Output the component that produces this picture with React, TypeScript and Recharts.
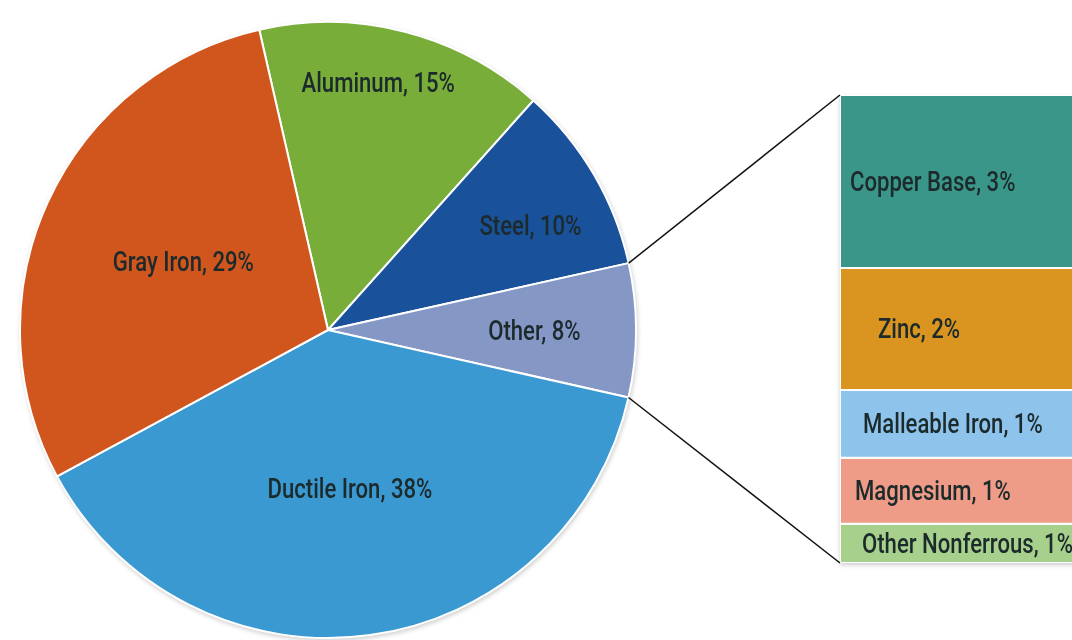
import React from "react";
import { PieChart, Pie, Cell, BarChart, Bar, XAxis, YAxis, LabelList } from "recharts";

// ---- data ----
const pieNames = ["Aluminum", "Steel", "Other", "Ductile Iron", "Gray Iron"];
const pieValues = [15.2, 9.9, 7.0, 38.6, 29.3];
const pieLabels = ["Aluminum, 15%", "Steel, 10%", "Other, 8%", "Ductile Iron, 38%", "Gray Iron, 29%"];
const pieColors = ["#79ad3a", "#19519a", "#8597c5", "#3a99d0", "#d1561e"];

// stacked bar, bottom to top
const barNames = ["otherNonferrous", "magnesium", "malleable", "zinc", "copper"];
const barValues = [0.67, 1.13, 1.16, 2.09, 2.96];
const barLabels = ["Other Nonferrous, 1%", "Magnesium, 1%", "Malleable Iron, 1%", "Zinc, 2%", "Copper Base, 3%"];
const barColors = ["#a6d08b", "#ee9c88", "#8ec4eb", "#d9951f", "#3a9689"];

// ---- layout / style ----
const W = 1072;
const H = 640;
const CX = 328;
const CY = 330;
const R = 308;
const START = 102.9;
const BAR_LEFT = 840;
const BAR_TOP = 95;
const BAR_W = 260;
const BAR_H = 468;
const FONT = "Roboto, 'Noto Sans', sans-serif";
const FS = 27;
const SX = 0.82;
const TEXT = "#1c2a2c";
const pieLabelPos = [
  { f: 0.82, da: 3 },
  { f: 0.74, da: -3 },
  { f: 0.67, da: 0 },
  { f: 0.52, da: 0 },
  { f: 0.52, da: -1 },
];
const barLabelDx = [22, 15, 23, 38, 10];

const pieData = pieNames.map((n, i) => ({ name: n, value: pieValues[i] }));
const barRow: Record<string, number | string> = { name: "other" };
barNames.forEach((n, i) => (barRow[n] = barValues[i]));
const barData = [barRow];

const RAD = Math.PI / 180;

const Label = ({ x, y, anchor, children }: any) => (
  <text
    transform={`translate(${x},${y}) scale(${SX},1)`}
    x={0}
    y={0}
    textAnchor={anchor}
    dominantBaseline="central"
    fill={TEXT}
    fontFamily={FONT}
    fontWeight={500}
    fontSize={FS}
  >
    {children}
  </text>
);

const renderPieLabel = (props: any) => {
  const { cx, cy, midAngle, outerRadius, index } = props;
  const p = pieLabelPos[index];
  const a = (midAngle + p.da) * RAD;
  const r = outerRadius * p.f;
  const x = cx + r * Math.cos(a);
  const y = cy - r * Math.sin(a);
  return (
    <Label x={x} y={y} anchor="middle">
      {pieLabels[index]}
    </Label>
  );
};

const makeBarLabel = (i: number) => (props: any) => {
  const { x, y, height } = props;
  return (
    <Label x={x + barLabelDx[i]} y={y + height / 2} anchor="start">
      {barLabels[i]}
    </Label>
  );
};

export default function App() {
  // angles of the "Other" slice, derived from the data
  const total = pieValues.reduce((a, b) => a + b, 0);
  const otherIdx = 2;
  const before = pieValues.slice(0, otherIdx).reduce((a, b) => a + b, 0);
  const a1 = (START - (before / total) * 360) * RAD;
  const a2 = (START - ((before + pieValues[otherIdx]) / total) * 360) * RAD;
  const p1 = { x: CX + R * Math.cos(a1), y: CY - R * Math.sin(a1) };
  const p2 = { x: CX + R * Math.cos(a2), y: CY - R * Math.sin(a2) };

  return (
    <div style={{ position: "absolute", left: 0, top: 0, width: W, height: H, overflow: "hidden", background: "#fff" }}>
      <div style={{ position: "absolute", left: 0, top: 0, filter: "drop-shadow(1px 2px 2px rgba(0,0,0,0.18))" }}>
        <PieChart width={W} height={H} margin={{ top: 0, right: 0, bottom: 0, left: 0 }}>
          <Pie
            data={pieData}
            dataKey="value"
            cx={CX}
            cy={CY}
            outerRadius={R}
            startAngle={START}
            endAngle={START - 360}
            stroke="#ffffff"
            strokeWidth={2}
            label={renderPieLabel}
            labelLine={false}
            isAnimationActive={false}
          >
            {pieData.map((d, i) => (
              <Cell key={d.name} fill={pieColors[i]} />
            ))}
          </Pie>
        </PieChart>
      </div>
      <div
        style={{
          position: "absolute",
          left: BAR_LEFT,
          top: BAR_TOP,
          filter: "drop-shadow(0px 2px 2px rgba(0,0,0,0.2))",
        }}
      >
        <BarChart width={BAR_W} height={BAR_H} data={barData} margin={{ top: 0, right: 0, bottom: 0, left: 0 }} barCategoryGap={0}>
          <XAxis dataKey="name" hide />
          <YAxis hide domain={[0, barValues.reduce((a, b) => a + b, 0)]} />
          {barNames.map((n, i) => (
            <Bar key={n} dataKey={n} stackId="s" fill={barColors[i]} stroke="#ffffff" strokeWidth={2} isAnimationActive={false}>
              <LabelList dataKey={n} content={makeBarLabel(i)} />
            </Bar>
          ))}
        </BarChart>
      </div>
      <svg width={W} height={H} style={{ position: "absolute", left: 0, top: 0, pointerEvents: "none" }}>
        <line x1={p1.x} y1={p1.y} x2={BAR_LEFT} y2={BAR_TOP} stroke="#111" strokeWidth={1.5} />
        <line x1={p2.x} y1={p2.y} x2={BAR_LEFT} y2={BAR_TOP + BAR_H} stroke="#111" strokeWidth={1.5} />
      </svg>
    </div>
  );
}
